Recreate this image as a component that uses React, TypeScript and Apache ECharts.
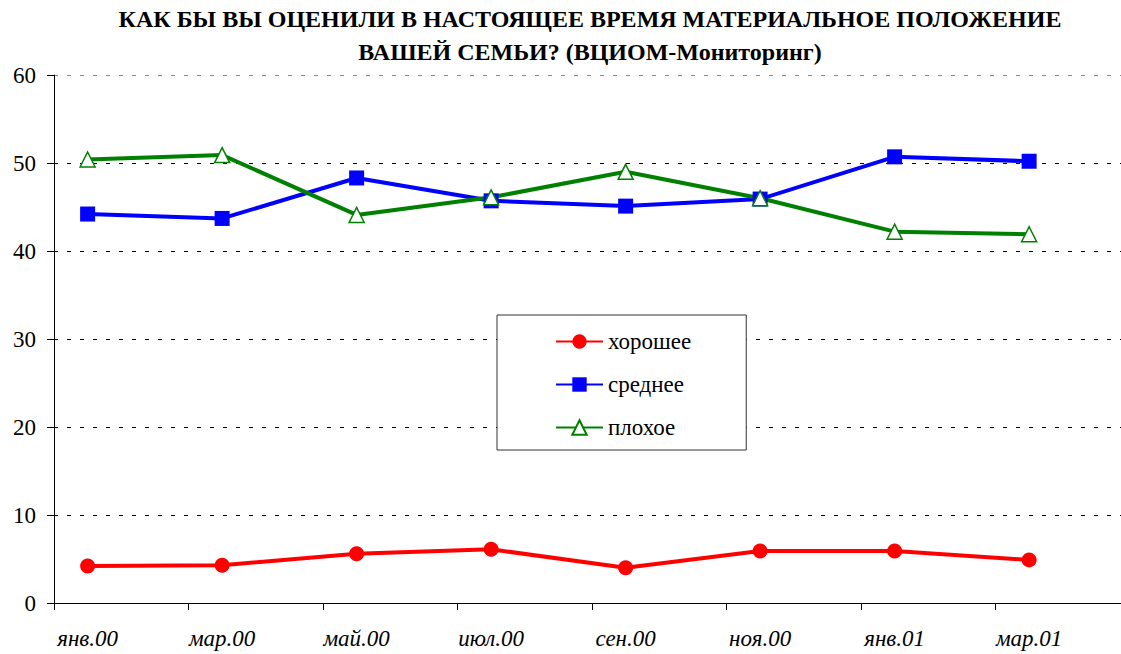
import React, { useEffect, useRef } from "react";
import * as echarts from "echarts";

const title = "КАК БЫ ВЫ ОЦЕНИЛИ В НАСТОЯЩЕЕ ВРЕМЯ МАТЕРИАЛЬНОЕ ПОЛОЖЕНИЕ\nВАШЕЙ СЕМЬИ? (ВЦИОМ-Мониторинг)";

// monthly slots on the axis
const months = [
  "янв.00", "фев.00", "мар.00", "апр.00", "май.00", "июн.00", "июл.00", "авг.00",
  "сен.00", "окт.00", "ноя.00", "дек.00", "янв.01", "фев.01", "мар.01", "апр.01",
];
// survey months
const surveyMonths = ["янв.00", "мар.00", "май.00", "июл.00", "сен.00", "ноя.00", "янв.01", "мар.01"];

const good = [4.2, 4.3, 5.6, 6.1, 4.0, 5.9, 5.9, 4.9];
const medium = [44.2, 43.7, 48.3, 45.7, 45.1, 45.9, 50.7, 50.2];
const bad = [50.4, 50.9, 44.1, 46.1, 49.0, 46.0, 42.2, 41.9];

const yTicks = [0, 10, 20, 30, 40, 50, 60];

const SERIF = "Liberation Serif, Times New Roman, serif";

export default function App() {
  const ref = useRef<HTMLDivElement>(null);
  useEffect(() => {
    if (!ref.current) return;
    const chart = echarts.init(ref.current, null, { renderer: "svg" });
    const pairs = (vals: number[]) => surveyMonths.map((m, i) => [m, vals[i]]);
    chart.setOption({
      animation: false,
      backgroundColor: "#fff",
      textStyle: { fontFamily: SERIF },
      graphic: [
        {
          type: "text",
          x: 590,
          y: 2,
          style: {
            text: title,
            textAlign: "center",
            fill: "#000",
            fontFamily: SERIF,
            fontWeight: "bold",
            fontSize: 24,
            lineHeight: 33,
          },
        },
      ],
      grid: { left: 54, top: 75, width: 1076, height: 528, containLabel: false },
      legend: {
        orient: "vertical",
        left: 497,
        top: 315,
        padding: [15, 55, 11, 58],
        itemGap: 20,
        itemWidth: 47,
        itemHeight: 18,
        borderColor: "#333",
        borderWidth: 1,
        backgroundColor: "#fff",
        textStyle: { fontFamily: SERIF, fontSize: 23, color: "#000" },
        data: ["хорошее", "среднее", "плохое"],
      },
      xAxis: {
        type: "category",
        data: months,
        boundaryGap: true,
        axisLine: { lineStyle: { color: "#000", width: 1 } },
        axisTick: { show: true, interval: 1, length: 7, lineStyle: { color: "#000" } },
        axisLabel: {
          interval: 1,
          margin: 24,
          fontFamily: SERIF,
          fontStyle: "italic",
          fontSize: 23,
          color: "#000",
        },
      },
      yAxis: {
        type: "value",
        min: yTicks[0],
        max: yTicks[yTicks.length - 1],
        interval: 10,
        axisLine: { show: true, lineStyle: { color: "#000", width: 1 } },
        axisTick: { show: true, length: 7, lineStyle: { color: "#000" } },
        axisLabel: { margin: 18, fontFamily: SERIF, fontSize: 23, color: "#000" },
        splitLine: {
          show: true,
          lineStyle: {
            color: ["#000", "#000", "#000", "#000", "#000", "#000", "#888"],
            type: [4, 9],
            width: 1,
          },
        },
      },
      series: [
        {
          name: "хорошее",
          type: "line",
          data: pairs(good),
          symbol: "circle",
          symbolSize: 15,
          lineStyle: { color: "#ff0000", width: 4 },
          itemStyle: { color: "#ff0000" },
        },
        {
          name: "среднее",
          type: "line",
          data: pairs(medium),
          symbol: "rect",
          symbolSize: 15,
          lineStyle: { color: "#0000ff", width: 4 },
          itemStyle: { color: "#0000ff" },
        },
        {
          name: "плохое",
          type: "line",
          data: pairs(bad),
          symbol: "triangle",
          symbolSize: 15,
          lineStyle: { color: "#008000", width: 4 },
          itemStyle: { color: "#ffffff", borderColor: "#008000", borderWidth: 1.5 },
        },
      ],
    });
    return () => chart.dispose();
  }, []);
  return (
    <div
      style={{ position: "fixed", left: 0, top: 0, width: 1121, height: 654, overflow: "hidden", background: "#fff" }}
    >
      <div ref={ref} style={{ width: 1140, height: 654 }} />
    </div>
  );
}
